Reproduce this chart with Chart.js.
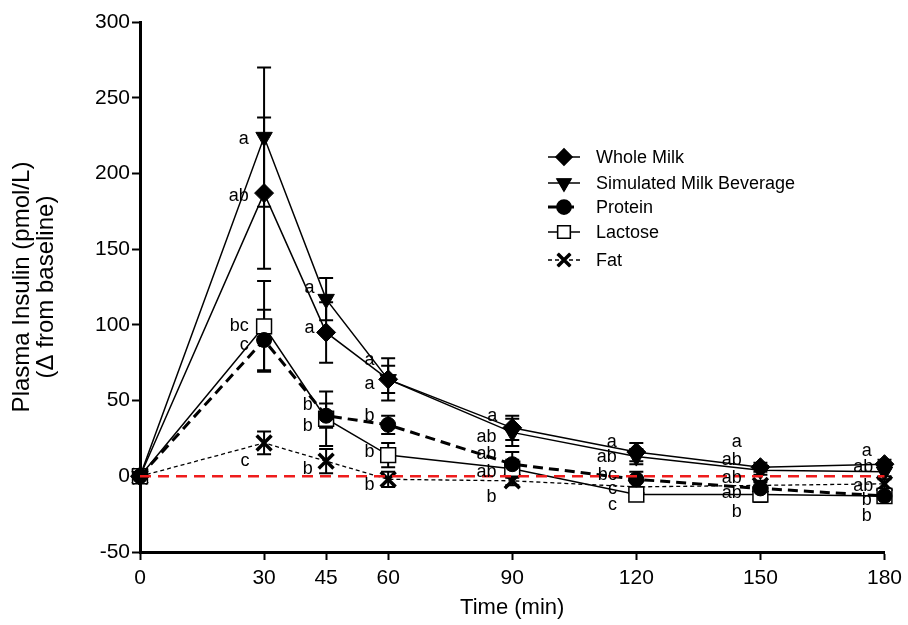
<!DOCTYPE html>
<html><head><meta charset="utf-8">
<script src="https://cdn.jsdelivr.net/npm/chart.js"></script>
<style>html,body{margin:0;padding:0;background:#fff}#wrap{width:908px;height:625px;position:relative}</style>
</head><body><div id="wrap"><canvas id="c" width="908" height="625"></canvas></div>
<script>
const times = [0, 30, 45, 60, 90, 120, 150, 180];
const seriesNames = ['Whole Milk', 'Simulated Milk Beverage', 'Protein', 'Lactose', 'Fat'];
const wholeMilk    = [0, 187, 95, 64, 32, 16, 6, 8];
const wholeMilkSem = [0, 50, 20, 14, 8, 6, 3, 3];
const simMilk      = [0, 224, 117, 64, 29, 13, 4, 3];
const simMilkSem   = [0, 46, 14, 9, 9, 5, 3, 3];
const protein      = [0, 90, 40, 34, 8, -2, -8, -13];
const proteinSem   = [0, 20, 8, 6, 8, 5, 4, 4];
const lactose      = [0, 99, 38, 14, 5, -12, -12, -13];
const lactoseSem   = [0, 30, 18, 8, 6, 4, 5, 4];
const fat          = [0, 22, 10, -2, -3, -7, -6, -5];
const fatSem       = [0, 7.5, 8, 5, 3, 3, 3, 3];
const yTicks = [-50, 0, 50, 100, 150, 200, 250, 300];
// significance letters: [text, time, value]
const sigLetters = [
  ['a', 26.3, 223], ['ab', 26.3, 185], ['bc', 26.3, 99], ['c', 26.3, 87], ['c', 26.5, 10],
  ['a', 42.2, 124], ['a', 42.2, 98], ['b', 41.8, 47], ['b', 41.8, 33], ['b', 41.8, 5],
  ['a', 56.7, 77], ['a', 56.7, 61], ['b', 56.7, 40], ['b', 56.7, 16], ['b', 56.7, -6],
  ['a', 86.4, 40], ['ab', 86.2, 26], ['ab', 86.2, 14.5], ['ab', 86.2, 2.5], ['b', 86.2, -14],
  ['a', 115.3, 22.5], ['ab', 115.3, 12.5], ['bc', 115.3, 1], ['c', 115.3, -8.5], ['c', 115.3, -19],
  ['a', 145.5, 22.5], ['ab', 145.5, 10.5], ['ab', 145.5, -1.3], ['ab', 145.5, -11], ['b', 145.5, -23.5],
  ['a', 176.9, 17], ['ab', 177.3, 6], ['ab', 177.3, -6.5], ['b', 176.9, -16], ['b', 176.9, -26]
];

const FONT = '"Liberation Sans", Arial, sans-serif';
const toXY = arr => arr.map((v, i) => ({x: times[i], y: v}));

const mk = (label, vals, sem, style) => Object.assign({
  label, data: toXY(vals), sem,
  borderColor: '#000', pointBorderColor: '#000', pointBackgroundColor: '#000',
  tension: 0, fill: false, clip: false, pointHoverRadius: 0
}, style);

const datasets = [
  mk(seriesNames[0], wholeMilk, wholeMilkSem, {borderWidth: 1.5, pointStyle: 'rectRot', pointRadius: 9.5, pointBorderWidth: 1}),
  mk(seriesNames[1], simMilk, simMilkSem, {borderWidth: 1.5, pointStyle: 'triangle', pointRotation: 180, pointRadius: 9.5, pointBorderWidth: 1}),
  mk(seriesNames[2], protein, proteinSem, {borderWidth: 3, borderDash: [10, 6], pointStyle: 'circle', pointRadius: 7.5, pointBorderWidth: 1}),
  mk(seriesNames[3], lactose, lactoseSem, {borderWidth: 1.5, pointStyle: 'rect', pointRadius: 10.5, pointBorderWidth: 1.5, pointBackgroundColor: '#fff'}),
  mk(seriesNames[4], fat, fatSem, {borderWidth: 1.3, borderDash: [4, 3], pointStyle: 'crossRot', pointRadius: 10.5, pointBorderWidth: 3.5})
];
datasets.push({
  label: '_zero', data: [{x: 0, y: 0}, {x: 180, y: 0}], borderColor: '#ee1c1c', borderWidth: 2.5,
  borderDash: [11, 7], pointRadius: 0, fill: false, clip: false, isRef: true, order: -1
});

const errorBars = {
  id: 'errorBars',
  beforeDatasetsDraw(chart) {
    const ctx = chart.ctx, xs = chart.scales.x, ys = chart.scales.y;
    ctx.save();
    ctx.strokeStyle = '#000'; ctx.lineWidth = 2; ctx.setLineDash([]);
    chart.data.datasets.forEach(ds => {
      if (!ds.sem) return;
      ds.data.forEach((p, i) => {
        const e = ds.sem[i]; if (!e) return;
        const px = xs.getPixelForValue(p.x);
        const y1 = ys.getPixelForValue(p.y + e), y2 = ys.getPixelForValue(p.y - e);
        ctx.beginPath();
        ctx.moveTo(px, y1); ctx.lineTo(px, y2);
        ctx.moveTo(px - 7, y1); ctx.lineTo(px + 7, y1);
        ctx.moveTo(px - 7, y2); ctx.lineTo(px + 7, y2);
        ctx.stroke();
      });
    });
    ctx.restore();
  }
};

const letters = {
  id: 'letters',
  afterDatasetsDraw(chart) {
    const ctx = chart.ctx, xs = chart.scales.x, ys = chart.scales.y;
    ctx.save();
    ctx.fillStyle = '#000'; ctx.font = '18px ' + FONT;
    ctx.textAlign = 'right'; ctx.textBaseline = 'middle';
    sigLetters.forEach(([t, x, y]) => ctx.fillText(t, xs.getPixelForValue(x), ys.getPixelForValue(y)));
    ctx.restore();
  }
};

const legendBox = {
  id: 'legendBox',
  afterDraw(chart) {
    const ctx = chart.ctx;
    const x0 = 548, x1 = 580, xm = 564, tx = 596;
    const rows = [157, 183, 207, 232, 260];
    ctx.save();
    chart.data.datasets.forEach((ds, i) => {
      if (ds.isRef) return;
      const y = rows[i];
      ctx.strokeStyle = '#000'; ctx.lineWidth = ds.borderWidth;
      ctx.setLineDash(ds.borderDash || []);
      ctx.beginPath(); ctx.moveTo(x0, y); ctx.lineTo(x1, y); ctx.stroke();
      ctx.setLineDash([]);
      Chart.helpers.drawPoint(ctx, {
        pointStyle: ds.pointStyle, rotation: ds.pointRotation || 0, radius: ds.pointRadius * 0.85,
        borderWidth: ds.pointBorderWidth
      }, xm, y);
      ctx.fillStyle = ds.pointBackgroundColor; ctx.strokeStyle = '#000';
      ctx.lineWidth = ds.pointBorderWidth;
      ctx.fill(); ctx.stroke();
      ctx.fillStyle = '#000'; ctx.font = '18px ' + FONT;
      ctx.textAlign = 'left'; ctx.textBaseline = 'middle';
      ctx.fillText(ds.label, tx, y + 1);
    });
    ctx.restore();
  }
};

new Chart(document.getElementById('c'), {
  type: 'line',
  data: {datasets},
  plugins: [errorBars, letters, legendBox],
  options: {
    responsive: false, animation: false, devicePixelRatio: 1,
    layout: {padding: {top: 22, right: 22, left: 0, bottom: 0}},
    plugins: {legend: {display: false}, tooltip: {enabled: false}},
    scales: {
      x: {
        type: 'linear', min: 0, max: 180,
        afterBuildTicks: s => { s.ticks = times.map(v => ({value: v})); },
        afterFit: s => { s.height = 73; },
        grid: {drawOnChartArea: false, drawTicks: true, tickLength: 8, tickWidth: 2, tickColor: '#000'},
        border: {display: true, color: '#000', width: 3},
        ticks: {color: '#000', font: {family: FONT, size: 21}, padding: 6, maxRotation: 0, autoSkip: false},
        title: {display: true, text: 'Time (min)', color: '#000', font: {family: FONT, size: 22}, padding: {top: 0, bottom: 4}}
      },
      y: {
        min: -50, max: 300,
        afterBuildTicks: s => { s.ticks = yTicks.map(v => ({value: v})); },
        afterFit: s => { s.width = 140; },
        grid: {drawOnChartArea: false, drawTicks: true, tickLength: 8, tickWidth: 2, tickColor: '#000'},
        border: {display: true, color: '#000', width: 3},
        ticks: {color: '#000', font: {family: FONT, size: 21}, padding: 2},
        title: {display: true, text: ['Plasma Insulin (pmol/L)', '(\u0394 from baseline)'], color: '#000',
          font: {family: FONT, size: 24, lineHeight: 1.0}, padding: {top: 10, bottom: 0}}
      }
    }
  }
});
</script></body></html>
